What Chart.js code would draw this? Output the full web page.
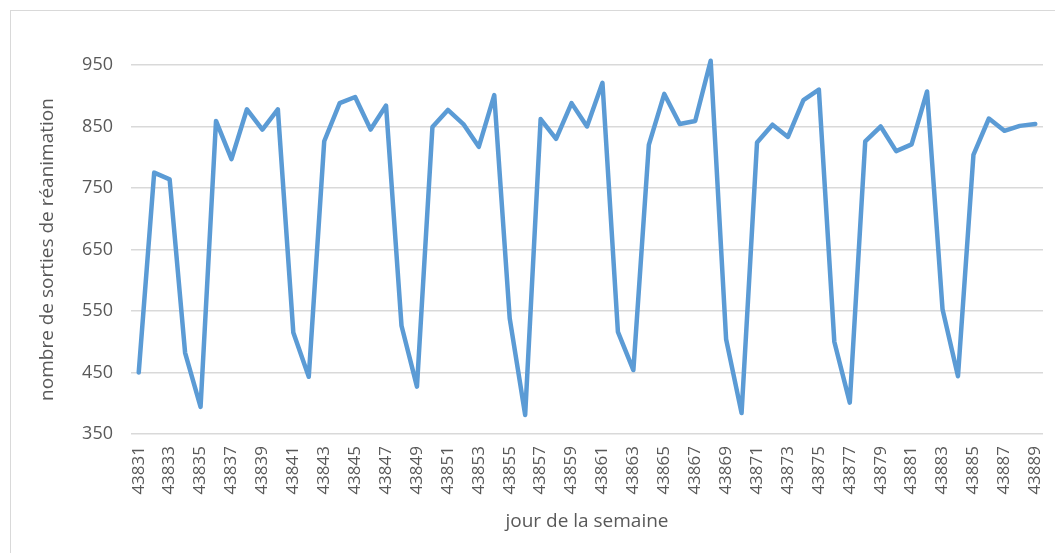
<!DOCTYPE html>
<html>
<head>
<meta charset="utf-8">
<script src="https://cdn.jsdelivr.net/npm/chart.js@4.4.1/dist/chart.umd.min.js"></script>
<style>
    html, body { margin: 0; padding: 0; background: #fff; overflow: hidden; }
    #wrap { position: relative; width: 1055px; height: 553px; }
    #frame { position: absolute; left: 10px; top: 10px; width: 1100px; height: 600px;
             border-top: 1.5px solid #d9d9d9; border-left: 1.5px solid #d9d9d9; }
    canvas { position: absolute; left: 0; top: 0; }
</style>
</head>
<body>
<div id="wrap">
    <div id="frame"></div>
    <canvas id="chart" width="1055" height="553"></canvas>
</div>
<script>
// jour (numéro de série Excel) et nombre de sorties
const days = [];
for (let d = 43831; d <= 43889; d++)
    days.push(String(d));

const sorties = [
    450, 775, 764, 482, 394, 859, 797, 878, 845, 878,
    515, 443, 826, 888, 898, 845, 884, 526, 427, 849,
    877, 854, 817, 901, 538, 381, 862, 830, 888, 850,
    921, 516, 454, 820, 903, 854, 859, 957, 504, 384,
    824, 853, 833, 893, 910, 500, 401, 826, 850, 810,
    821, 907, 553, 444, 804, 863, 843, 851, 854,
];

const yTicks = { min: 350, max: 950, step: 100 };

const FONT = "'Open Sans', 'Noto Sans', sans-serif";
const TEXT = "#595959";
const GRID = "#d9d9d9";

new Chart(document.getElementById("chart"), {
    type: "line",
    data: {
        labels: days,
        datasets: [
            {
                data: sorties,
                borderColor: "#5b9bd5",
                borderWidth: 4.5,
                borderJoinStyle: "round",
                borderCapStyle: "round",
                pointRadius: 0,
                tension: 0,
                fill: false,
                clip: false,
            },
        ],
    },
    options: {
        responsive: false,
        animation: false,
        events: [],
        layout: {
            padding: { left: 20, top: 65, right: 12, bottom: 0 },
        },
        plugins: {
            legend: { display: false },
            tooltip: { enabled: false },
        },
        scales: {
            x: {
                offset: true,
                grid: { display: false, drawTicks: false },
                border: { display: false },
                ticks: {
                    autoSkip: false,
                    minRotation: 90,
                    maxRotation: 90,
                    padding: 12,
                    color: TEXT,
                    font: { family: FONT, size: 17 },
                    callback: (value, i) => (i % 2 === 0 ? days[i] : ""),
                },
                title: {
                    display: true,
                    text: "jour de la semaine",
                    color: TEXT,
                    font: { family: FONT, size: 19 },
                    padding: { top: 0, bottom: 20 },
                },
                afterFit: (scale) => {
                    scale.height = 119;
                    // no extra room for the rotated end labels
                    scale.paddingLeft = 0;
                    scale.paddingRight = 0;
                },
            },
            y: {
                min: yTicks.min,
                max: yTicks.max,
                grid: { color: GRID, lineWidth: 1.5, drawTicks: false },
                border: { display: false },
                ticks: {
                    stepSize: yTicks.step,
                    padding: 18,
                    color: TEXT,
                    font: { family: FONT, size: 18 },
                },
                title: {
                    display: true,
                    text: "nombre de sorties de réanimation",
                    color: TEXT,
                    font: { family: FONT, size: 19 },
                    padding: { top: 16, bottom: 0 },
                },
                afterFit: (scale) => { scale.width = 111; },
            },
        },
    },
});
</script>
</body>
</html>
